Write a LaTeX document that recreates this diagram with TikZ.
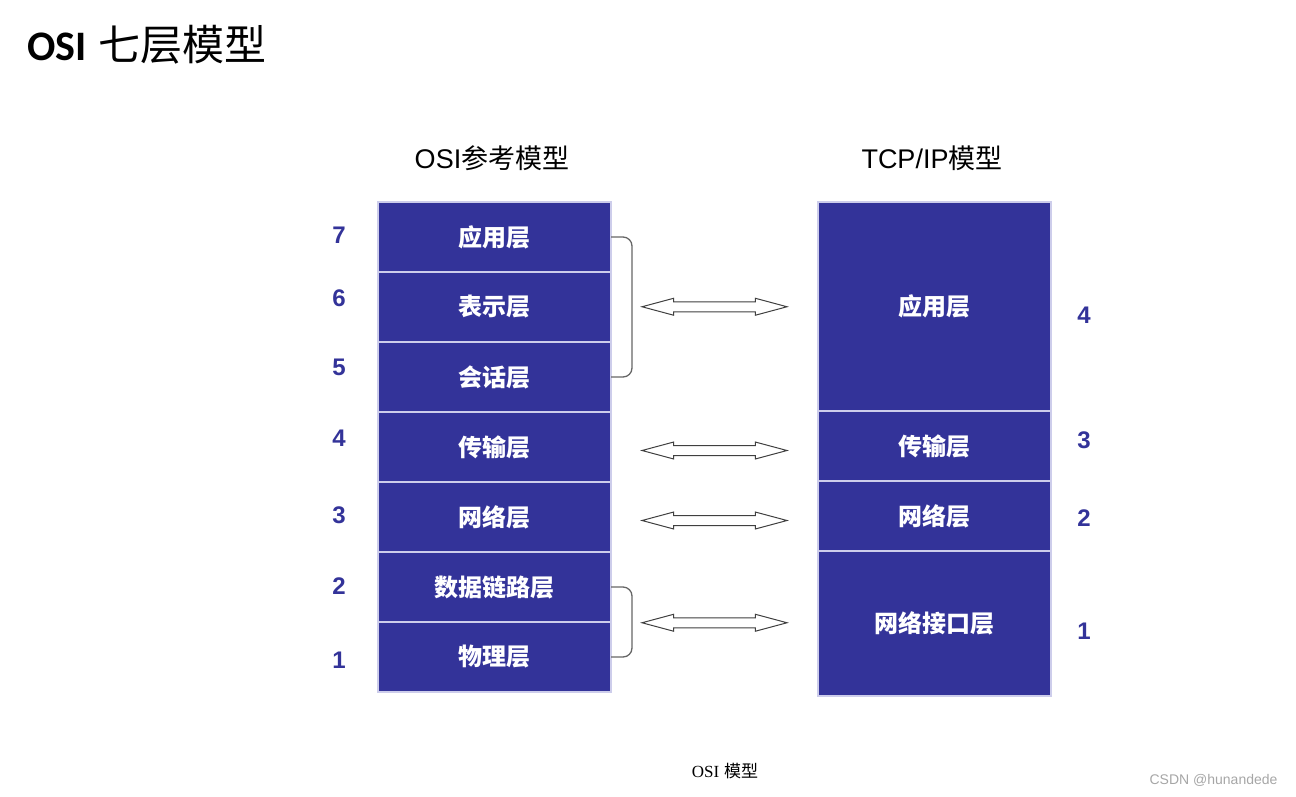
\documentclass[tikz,border=0pt]{standalone}
\usepackage{fontspec}
\setmainfont{Liberation Sans}
\newfontfamily\cjk{Noto Sans CJK SC}
\newfontfamily\calibri{Carlito}
\newfontfamily\timesfont{Liberation Serif}
\usetikzlibrary{positioning, shapes.arrows, calc}
\definecolor{osiblue}{RGB}{51,51,153}
\definecolor{rowline}{RGB}{205,205,235}

\begin{document}
\begin{tikzpicture}[
		x=1pt, y=-1pt,
		layer/.style={
			draw=rowline,
			line width=1.2pt,
			fill=osiblue,
			text=white,
			minimum width=233pt,
			minimum height=70pt,
			inner sep=0pt,
			outer sep=0pt,
			font=\fontsize{24}{28}\selectfont\cjk\bfseries
		},
		num/.style={text=osiblue, font=\fontsize{24}{28}\selectfont\bfseries},
		heading/.style={font=\fontsize{27}{32}\selectfont},
		bracket/.style={draw=gray!80!black, line width=1.3pt, rounded corners=9pt},
		link/.style={
			double arrow,
			draw=black!75,
			fill=white,
			line width=1pt,
			inner xsep=0pt,
			inner ysep=4.5pt,
			minimum height=145pt,
			double arrow head extend=3.5pt,
			double arrow tip angle=30
		}
		]
		
		\useasboundingbox (0,0) rectangle (1296,796);
		
		% --- Title ---
		\node[anchor=west, font=\fontsize{42}{48}\selectfont] (title) at (24,45)
			{{\calibri\bfseries OSI} {\cjk 七层模型}};
		
		% --- OSI reference model (left) ---
		\node[heading] (osihead) at (492,158) {OSI{\cjk 参考模型}};
		\node[layer, anchor=north] (app) at (494.5,202) {应用层};
		\node[layer, below=0pt of app] (pres) {表示层};
		\node[layer, below=0pt of pres] (sess) {会话层};
		\node[layer, below=0pt of sess] (trans) {传输层};
		\node[layer, below=0pt of trans] (net) {网络层};
		\node[layer, below=0pt of net] (dlink) {数据链路层};
		\node[layer, below=0pt of dlink] (phys) {物理层};
		
		\foreach \n/\y in {7/235, 6/298, 5/367, 4/438, 3/515, 2/586, 1/660}
			\node[num] (osinum\n) at (339,\y) {\n};
		
		% --- TCP/IP model (right) ---
		\node[heading] (tcphead) at (932,158) {TCP/IP{\cjk 模型}};
		\node[layer, anchor=north, minimum height=209pt] (tapp) at (934.5,202) {应用层};
		\node[layer, below=0pt of tapp] (ttrans) {传输层};
		\node[layer, below=0pt of ttrans] (tnet) {网络层};
		\node[layer, below=0pt of tnet, minimum height=145pt] (tlink) {网络接口层};
		
		\foreach \n/\y in {4/315, 3/440, 2/518, 1/631}
			\node[num] (tcpnum\n) at (1084,\y) {\n};
		
		% --- Brackets ---
		\draw[bracket] (app.east) -- ++(21,0) |- (sess.east);
		\draw[bracket] (dlink.east) -- ++(21,0) |- (phys.east);
		
		% --- Correspondence arrows ---
		\node[link] (arrapp) at ($(pres.east)!0.5!(tapp.west)$) {};
		\node[link, yshift=-4pt] (arrtrans) at ($(trans.east)!0.5!(ttrans.west)$) {};
		\node[link, yshift=-4pt] (arrnet) at ($(net.east)!0.5!(tnet.west)$) {};
		\node[link] (arrlink) at ($(dlink.south east)!0.5!(tlink.west)$) {};
		
		% --- Caption ---
		\node[font=\fontsize{17}{20}\selectfont] (caption) at (725,771)
			{{\timesfont OSI} {\cjk 模型}};
		\node[anchor=east, text=gray!70, font=\fontsize{14}{16}\selectfont] (mark) at (1281,780)
			{CSDN @hunandede};
		
	\end{tikzpicture}
\end{document}
